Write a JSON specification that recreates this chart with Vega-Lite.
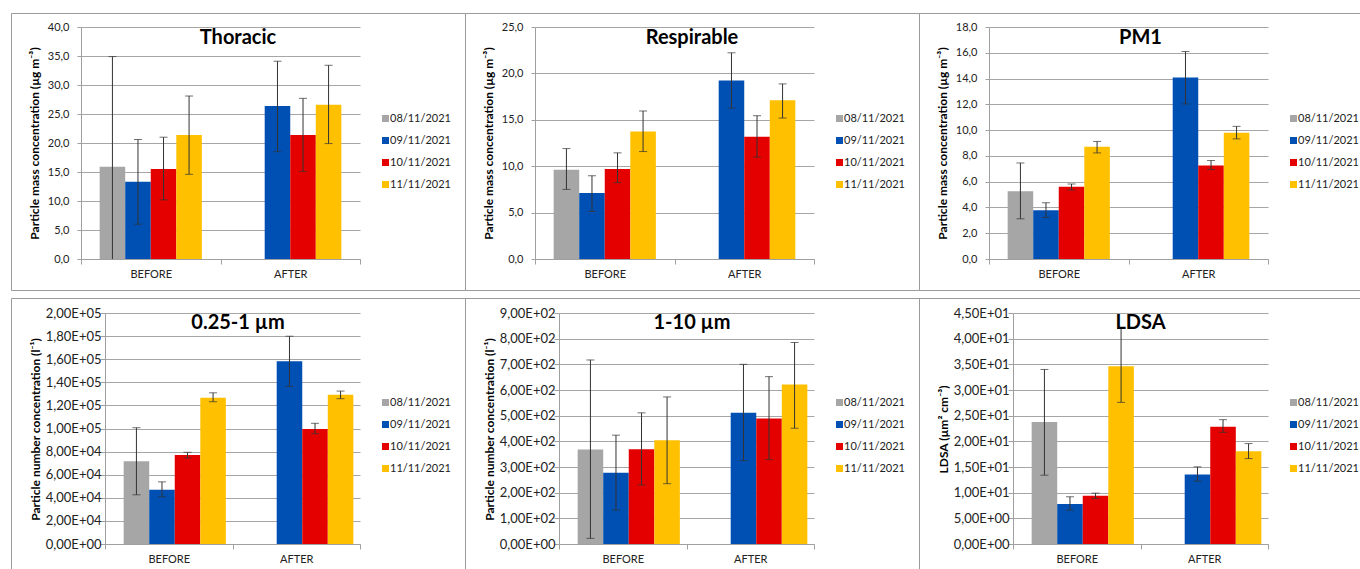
{
  "$schema": "https://vega.github.io/schema/vega-lite/v6.json",
  "padding": {"left": 10, "top": 12, "right": 0, "bottom": 0},
  "background": "#ffffff",
  "datasets": {
    "d": [
      {"p": "Thoracic", "phase": "BEFORE", "date": "08/11/2021", "value": 15.9, "lo": 0, "hi": 34.9},
      {"p": "Thoracic", "phase": "BEFORE", "date": "09/11/2021", "value": 13.3, "lo": 6.0, "hi": 20.6},
      {"p": "Thoracic", "phase": "BEFORE", "date": "10/11/2021", "value": 15.5, "lo": 10.2, "hi": 21.0},
      {"p": "Thoracic", "phase": "BEFORE", "date": "11/11/2021", "value": 21.4, "lo": 14.6, "hi": 28.1},
      {"p": "Thoracic", "phase": "AFTER", "date": "09/11/2021", "value": 26.4, "lo": 18.5, "hi": 34.1},
      {"p": "Thoracic", "phase": "AFTER", "date": "10/11/2021", "value": 21.4, "lo": 15.1, "hi": 27.7},
      {"p": "Thoracic", "phase": "AFTER", "date": "11/11/2021", "value": 26.6, "lo": 19.9, "hi": 33.4},
      {"p": "Respirable", "phase": "BEFORE", "date": "08/11/2021", "value": 9.63, "lo": 7.5, "hi": 11.9},
      {"p": "Respirable", "phase": "BEFORE", "date": "09/11/2021", "value": 7.11, "lo": 5.12, "hi": 8.98},
      {"p": "Respirable", "phase": "BEFORE", "date": "10/11/2021", "value": 9.7, "lo": 8.23, "hi": 11.44},
      {"p": "Respirable", "phase": "BEFORE", "date": "11/11/2021", "value": 13.74, "lo": 11.58, "hi": 15.95},
      {"p": "Respirable", "phase": "AFTER", "date": "09/11/2021", "value": 19.23, "lo": 16.27, "hi": 22.22},
      {"p": "Respirable", "phase": "AFTER", "date": "10/11/2021", "value": 13.17, "lo": 10.97, "hi": 15.44},
      {"p": "Respirable", "phase": "AFTER", "date": "11/11/2021", "value": 17.1, "lo": 15.19, "hi": 18.87},
      {"p": "PM1", "phase": "BEFORE", "date": "08/11/2021", "value": 5.25, "lo": 3.12, "hi": 7.45},
      {"p": "PM1", "phase": "BEFORE", "date": "09/11/2021", "value": 3.79, "lo": 3.22, "hi": 4.36},
      {"p": "PM1", "phase": "BEFORE", "date": "10/11/2021", "value": 5.61, "lo": 5.35, "hi": 5.82},
      {"p": "PM1", "phase": "BEFORE", "date": "11/11/2021", "value": 8.7, "lo": 8.23, "hi": 9.12},
      {"p": "PM1", "phase": "AFTER", "date": "09/11/2021", "value": 14.08, "lo": 12.03, "hi": 16.1},
      {"p": "PM1", "phase": "AFTER", "date": "10/11/2021", "value": 7.25, "lo": 6.94, "hi": 7.64},
      {"p": "PM1", "phase": "AFTER", "date": "11/11/2021", "value": 9.79, "lo": 9.32, "hi": 10.29},
      {"p": "PN025", "phase": "BEFORE", "date": "08/11/2021", "value": 71700, "lo": 42600, "hi": 100700},
      {"p": "PN025", "phase": "BEFORE", "date": "09/11/2021", "value": 46900, "lo": 40900, "hi": 53800},
      {"p": "PN025", "phase": "BEFORE", "date": "10/11/2021", "value": 77100, "lo": 74500, "hi": 79400},
      {"p": "PN025", "phase": "BEFORE", "date": "11/11/2021", "value": 126600, "lo": 123200, "hi": 130900},
      {"p": "PN025", "phase": "AFTER", "date": "09/11/2021", "value": 158300, "lo": 136400, "hi": 179900},
      {"p": "PN025", "phase": "AFTER", "date": "10/11/2021", "value": 99600, "lo": 95500, "hi": 104500},
      {"p": "PN025", "phase": "AFTER", "date": "11/11/2021", "value": 129200, "lo": 125800, "hi": 132400},
      {"p": "PN110", "phase": "BEFORE", "date": "08/11/2021", "value": 368, "lo": 22, "hi": 717},
      {"p": "PN110", "phase": "BEFORE", "date": "09/11/2021", "value": 278, "lo": 132, "hi": 424},
      {"p": "PN110", "phase": "BEFORE", "date": "10/11/2021", "value": 369, "lo": 230, "hi": 511},
      {"p": "PN110", "phase": "BEFORE", "date": "11/11/2021", "value": 404, "lo": 235, "hi": 573},
      {"p": "PN110", "phase": "AFTER", "date": "09/11/2021", "value": 511, "lo": 325, "hi": 700},
      {"p": "PN110", "phase": "AFTER", "date": "10/11/2021", "value": 489, "lo": 329, "hi": 652},
      {"p": "PN110", "phase": "AFTER", "date": "11/11/2021", "value": 621, "lo": 451, "hi": 785},
      {"p": "LDSA", "phase": "BEFORE", "date": "08/11/2021", "value": 23.77, "lo": 13.4, "hi": 34.0},
      {"p": "LDSA", "phase": "BEFORE", "date": "09/11/2021", "value": 7.77, "lo": 6.6, "hi": 9.2},
      {"p": "LDSA", "phase": "BEFORE", "date": "10/11/2021", "value": 9.39, "lo": 8.87, "hi": 9.91},
      {"p": "LDSA", "phase": "BEFORE", "date": "11/11/2021", "value": 34.65, "lo": 27.59, "hi": 42.03},
      {"p": "LDSA", "phase": "AFTER", "date": "09/11/2021", "value": 13.54, "lo": 12.24, "hi": 15.03},
      {"p": "LDSA", "phase": "AFTER", "date": "10/11/2021", "value": 22.86, "lo": 21.76, "hi": 24.22},
      {"p": "LDSA", "phase": "AFTER", "date": "11/11/2021", "value": 18.07, "lo": 16.64, "hi": 19.56}
    ]
  },
  "vconcat": [
    {
      "hconcat": [
        {
          "width": 454, "height": 277,
          "title": {"text": "Thoracic", "offset": -35},
          "data": {"name": "d"},
          "transform": [{"filter": "datum.p === 'Thoracic'"}],
          "encoding": {
            "x": {"field": "phase", "type": "nominal", "sort": ["BEFORE", "AFTER"], "scale": {"range": [70, 349], "paddingInner": 0, "paddingOuter": 0}, "axis": {"offset": -31, "title": null}},
            "xOffset": {"field": "date", "type": "nominal", "scale": {"domain": ["08/11/2021", "09/11/2021", "10/11/2021", "11/11/2021"], "paddingOuter": 0.73, "paddingInner": 0}}
          },
          "layer": [
            {"mark": {"type": "bar"}, "encoding": {
              "y": {"field": "value", "type": "quantitative", "scale": {"domain": [0, 40], "range": [246, 14], "nice": false, "zero": false},
                "axis": {"offset": -70, "values": [0, 5, 10, 15, 20, 25, 30, 35, 40], "tickCount": 40, "labelOverlap": false, "labelPadding": 8, "title": "Particle mass concentration (µg m⁻³)", "labelExpr": "replace(format(datum.value, '.1f'), '.', ',')", "titleX": -47, "titleY": 130}},
              "color": {"field": "date", "type": "nominal", "scale": {"domain": ["08/11/2021", "09/11/2021", "10/11/2021", "11/11/2021"], "range": ["#a6a6a6", "#0050b4", "#e50000", "#ffc000"]}, "legend": {"legendX": 369, "legendY": 100}}}},
            {"mark": {"type": "rule", "color": "#333333", "strokeWidth": 1}, "encoding": {"y": {"field": "lo", "type": "quantitative", "scale": {"domain": [0, 40], "range": [246, 14], "nice": false, "zero": false}}, "y2": {"field": "hi"}}},
            {"mark": {"type": "tick", "color": "#333333", "thickness": 1, "size": 8}, "encoding": {"y": {"field": "hi", "type": "quantitative", "scale": {"domain": [0, 40], "range": [246, 14], "nice": false, "zero": false}}}},
            {"mark": {"type": "tick", "color": "#333333", "thickness": 1, "size": 8}, "transform": [{"filter": "datum.lo > 0"}], "encoding": {"y": {"field": "lo", "type": "quantitative", "scale": {"domain": [0, 40], "range": [246, 14], "nice": false, "zero": false}}}}
          ]
        },
        {
          "width": 454, "height": 277,
          "title": {"text": "Respirable", "offset": -35},
          "data": {"name": "d"},
          "transform": [{"filter": "datum.p === 'Respirable'"}],
          "encoding": {
            "x": {"field": "phase", "type": "nominal", "sort": ["BEFORE", "AFTER"], "scale": {"range": [70, 349], "paddingInner": 0, "paddingOuter": 0}, "axis": {"offset": -31, "title": null}},
            "xOffset": {"field": "date", "type": "nominal", "scale": {"domain": ["08/11/2021", "09/11/2021", "10/11/2021", "11/11/2021"], "paddingOuter": 0.73, "paddingInner": 0}}
          },
          "layer": [
            {"mark": {"type": "bar"}, "encoding": {
              "y": {"field": "value", "type": "quantitative", "scale": {"domain": [0, 25], "range": [246, 14], "nice": false, "zero": false},
                "axis": {"offset": -70, "values": [0, 5, 10, 15, 20, 25], "tickCount": 40, "labelOverlap": false, "labelPadding": 8, "title": "Particle mass concentration (µg m⁻³)", "labelExpr": "replace(format(datum.value, '.1f'), '.', ',')", "titleX": -47, "titleY": 130}},
              "color": {"field": "date", "type": "nominal", "scale": {"domain": ["08/11/2021", "09/11/2021", "10/11/2021", "11/11/2021"], "range": ["#a6a6a6", "#0050b4", "#e50000", "#ffc000"]}, "legend": {"legendX": 369, "legendY": 100}}}},
            {"mark": {"type": "rule", "color": "#333333", "strokeWidth": 1}, "encoding": {"y": {"field": "lo", "type": "quantitative", "scale": {"domain": [0, 25], "range": [246, 14], "nice": false, "zero": false}}, "y2": {"field": "hi"}}},
            {"mark": {"type": "tick", "color": "#333333", "thickness": 1, "size": 8}, "encoding": {"y": {"field": "hi", "type": "quantitative", "scale": {"domain": [0, 25], "range": [246, 14], "nice": false, "zero": false}}}},
            {"mark": {"type": "tick", "color": "#333333", "thickness": 1, "size": 8}, "transform": [{"filter": "datum.lo > 0"}], "encoding": {"y": {"field": "lo", "type": "quantitative", "scale": {"domain": [0, 25], "range": [246, 14], "nice": false, "zero": false}}}}
          ]
        },
        {
          "width": 443, "height": 277,
          "title": {"text": "PM1", "offset": -35},
          "data": {"name": "d"},
          "transform": [{"filter": "datum.p === 'PM1'"}],
          "encoding": {
            "x": {"field": "phase", "type": "nominal", "sort": ["BEFORE", "AFTER"], "scale": {"range": [70, 349], "paddingInner": 0, "paddingOuter": 0}, "axis": {"offset": -31, "title": null}},
            "xOffset": {"field": "date", "type": "nominal", "scale": {"domain": ["08/11/2021", "09/11/2021", "10/11/2021", "11/11/2021"], "paddingOuter": 0.73, "paddingInner": 0}}
          },
          "layer": [
            {"mark": {"type": "bar"}, "encoding": {
              "y": {"field": "value", "type": "quantitative", "scale": {"domain": [0, 18], "range": [246, 14], "nice": false, "zero": false},
                "axis": {"offset": -70, "values": [0, 2, 4, 6, 8, 10, 12, 14, 16, 18], "tickCount": 40, "labelOverlap": false, "labelPadding": 8, "title": "Particle mass concentration (µg m⁻³)", "labelExpr": "replace(format(datum.value, '.1f'), '.', ',')", "titleX": -47, "titleY": 130}},
              "color": {"field": "date", "type": "nominal", "scale": {"domain": ["08/11/2021", "09/11/2021", "10/11/2021", "11/11/2021"], "range": ["#a6a6a6", "#0050b4", "#e50000", "#ffc000"]}, "legend": {"legendX": 369, "legendY": 100}}}},
            {"mark": {"type": "rule", "color": "#333333", "strokeWidth": 1}, "encoding": {"y": {"field": "lo", "type": "quantitative", "scale": {"domain": [0, 18], "range": [246, 14], "nice": false, "zero": false}}, "y2": {"field": "hi"}}},
            {"mark": {"type": "tick", "color": "#333333", "thickness": 1, "size": 8}, "encoding": {"y": {"field": "hi", "type": "quantitative", "scale": {"domain": [0, 18], "range": [246, 14], "nice": false, "zero": false}}}},
            {"mark": {"type": "tick", "color": "#333333", "thickness": 1, "size": 8}, "transform": [{"filter": "datum.lo > 0"}], "encoding": {"y": {"field": "lo", "type": "quantitative", "scale": {"domain": [0, 18], "range": [246, 14], "nice": false, "zero": false}}}}
          ]
        }
      ],
      "spacing": 0,
      "bounds": "flush",
      "resolve": {"scale": {"color": "independent"}, "legend": {"color": "independent"}}
    },
    {
      "hconcat": [
        {
          "width": 454, "height": 276,
          "title": {"text": "0.25-1 µm", "offset": -35},
          "data": {"name": "d"},
          "transform": [{"filter": "datum.p === 'PN025'"}],
          "encoding": {
            "x": {"field": "phase", "type": "nominal", "sort": ["BEFORE", "AFTER"], "scale": {"range": [94, 349], "paddingInner": 0, "paddingOuter": 0}, "axis": {"offset": -30, "title": null}},
            "xOffset": {"field": "date", "type": "nominal", "scale": {"domain": ["08/11/2021", "09/11/2021", "10/11/2021", "11/11/2021"], "paddingOuter": 0.73, "paddingInner": 0}}
          },
          "layer": [
            {"mark": {"type": "bar"}, "encoding": {
              "y": {"field": "value", "type": "quantitative", "scale": {"domain": [0, 200000], "range": [246, 15], "nice": false, "zero": false},
                "axis": {"offset": -94, "values": [0, 20000, 40000, 60000, 80000, 100000, 120000, 140000, 160000, 180000, 200000], "tickCount": 40, "labelOverlap": false, "tickSize": 5, "labelPadding": -1, "title": "Particle number concentration (l⁻¹)", "labelFontSize": 13, "labelExpr": "replace(replace(format(datum.value, '.2e'), '.', ','), 'e+', 'E+0')", "titleX": -70, "titleY": 131}},
              "color": {"field": "date", "type": "nominal", "scale": {"domain": ["08/11/2021", "09/11/2021", "10/11/2021", "11/11/2021"], "range": ["#a6a6a6", "#0050b4", "#e50000", "#ffc000"]}, "legend": {"legendX": 369, "legendY": 99}}}},
            {"mark": {"type": "rule", "color": "#333333", "strokeWidth": 1}, "encoding": {"y": {"field": "lo", "type": "quantitative", "scale": {"domain": [0, 200000], "range": [246, 15], "nice": false, "zero": false}}, "y2": {"field": "hi"}}},
            {"mark": {"type": "tick", "color": "#333333", "thickness": 1, "size": 8}, "encoding": {"y": {"field": "hi", "type": "quantitative", "scale": {"domain": [0, 200000], "range": [246, 15], "nice": false, "zero": false}}}},
            {"mark": {"type": "tick", "color": "#333333", "thickness": 1, "size": 8}, "transform": [{"filter": "datum.lo > 0"}], "encoding": {"y": {"field": "lo", "type": "quantitative", "scale": {"domain": [0, 200000], "range": [246, 15], "nice": false, "zero": false}}}}
          ]
        },
        {
          "width": 454, "height": 276,
          "title": {"text": "1-10 µm", "offset": -35},
          "data": {"name": "d"},
          "transform": [{"filter": "datum.p === 'PN110'"}],
          "encoding": {
            "x": {"field": "phase", "type": "nominal", "sort": ["BEFORE", "AFTER"], "scale": {"range": [94, 349], "paddingInner": 0, "paddingOuter": 0}, "axis": {"offset": -30, "title": null}},
            "xOffset": {"field": "date", "type": "nominal", "scale": {"domain": ["08/11/2021", "09/11/2021", "10/11/2021", "11/11/2021"], "paddingOuter": 0.73, "paddingInner": 0}}
          },
          "layer": [
            {"mark": {"type": "bar"}, "encoding": {
              "y": {"field": "value", "type": "quantitative", "scale": {"domain": [0, 900], "range": [246, 15], "nice": false, "zero": false},
                "axis": {"offset": -94, "values": [0, 100, 200, 300, 400, 500, 600, 700, 800, 900], "tickCount": 40, "labelOverlap": false, "tickSize": 5, "labelPadding": -1, "title": "Particle number concentration (l⁻¹)", "labelFontSize": 13, "labelExpr": "replace(replace(format(datum.value, '.2e'), '.', ','), 'e+', 'E+0')", "titleX": -70, "titleY": 131}},
              "color": {"field": "date", "type": "nominal", "scale": {"domain": ["08/11/2021", "09/11/2021", "10/11/2021", "11/11/2021"], "range": ["#a6a6a6", "#0050b4", "#e50000", "#ffc000"]}, "legend": {"legendX": 369, "legendY": 99}}}},
            {"mark": {"type": "rule", "color": "#333333", "strokeWidth": 1}, "encoding": {"y": {"field": "lo", "type": "quantitative", "scale": {"domain": [0, 900], "range": [246, 15], "nice": false, "zero": false}}, "y2": {"field": "hi"}}},
            {"mark": {"type": "tick", "color": "#333333", "thickness": 1, "size": 8}, "encoding": {"y": {"field": "hi", "type": "quantitative", "scale": {"domain": [0, 900], "range": [246, 15], "nice": false, "zero": false}}}},
            {"mark": {"type": "tick", "color": "#333333", "thickness": 1, "size": 8}, "transform": [{"filter": "datum.lo > 0"}], "encoding": {"y": {"field": "lo", "type": "quantitative", "scale": {"domain": [0, 900], "range": [246, 15], "nice": false, "zero": false}}}}
          ]
        },
        {
          "width": 443, "height": 276,
          "title": {"text": "LDSA", "offset": -35},
          "data": {"name": "d"},
          "transform": [{"filter": "datum.p === 'LDSA'"}],
          "encoding": {
            "x": {"field": "phase", "type": "nominal", "sort": ["BEFORE", "AFTER"], "scale": {"range": [94, 349], "paddingInner": 0, "paddingOuter": 0}, "axis": {"offset": -30, "title": null}},
            "xOffset": {"field": "date", "type": "nominal", "scale": {"domain": ["08/11/2021", "09/11/2021", "10/11/2021", "11/11/2021"], "paddingOuter": 0.73, "paddingInner": 0}}
          },
          "layer": [
            {"mark": {"type": "bar"}, "encoding": {
              "y": {"field": "value", "type": "quantitative", "scale": {"domain": [0, 45], "range": [246, 15], "nice": false, "zero": false},
                "axis": {"offset": -94, "values": [0, 5, 10, 15, 20, 25, 30, 35, 40, 45], "tickCount": 40, "labelOverlap": false, "tickSize": 5, "labelPadding": -1, "title": "LDSA (µm² cm⁻³)", "labelFontSize": 13, "labelExpr": "replace(replace(format(datum.value, '.2e'), '.', ','), 'e+', 'E+0')", "titleX": -70, "titleY": 131}},
              "color": {"field": "date", "type": "nominal", "scale": {"domain": ["08/11/2021", "09/11/2021", "10/11/2021", "11/11/2021"], "range": ["#a6a6a6", "#0050b4", "#e50000", "#ffc000"]}, "legend": {"legendX": 369, "legendY": 99}}}},
            {"mark": {"type": "rule", "color": "#333333", "strokeWidth": 1}, "encoding": {"y": {"field": "lo", "type": "quantitative", "scale": {"domain": [0, 45], "range": [246, 15], "nice": false, "zero": false}}, "y2": {"field": "hi"}}},
            {"mark": {"type": "tick", "color": "#333333", "thickness": 1, "size": 8}, "encoding": {"y": {"field": "hi", "type": "quantitative", "scale": {"domain": [0, 45], "range": [246, 15], "nice": false, "zero": false}}}},
            {"mark": {"type": "tick", "color": "#333333", "thickness": 1, "size": 8}, "transform": [{"filter": "datum.lo > 0"}], "encoding": {"y": {"field": "lo", "type": "quantitative", "scale": {"domain": [0, 45], "range": [246, 15], "nice": false, "zero": false}}}}
          ]
        }
      ],
      "spacing": 0,
      "bounds": "flush",
      "resolve": {"scale": {"color": "independent"}, "legend": {"color": "independent"}}
    }
  ],
  "spacing": 6,
  "resolve": {"scale": {"color": "independent"}, "legend": {"color": "independent"}},
  "config": {
    "font": "Lato",
    "view": {"stroke": "#9a9a9a", "strokeWidth": 1},
    "title": {"font": "Lato", "fontSize": 20, "fontWeight": "bold", "color": "#000000", "anchor": "middle", "frame": "group"},
    "axis": {"labelFont": "Lato", "labelColor": "#222222", "domainColor": "#a0a0a0", "tickColor": "#a0a0a0", "gridColor": "#a6a6a6", "titleFont": "Lato", "titleFontWeight": "bold", "titleColor": "#000000"},
    "axisX": {"grid": false, "labelAngle": 0, "labelFontSize": 11, "tickBand": "extent", "tickSize": 5, "labelPadding": 4},
    "axisY": {"grid": true, "tickSize": 4, "labelFontSize": 11, "titleFontSize": 12, "titleAngle": -90, "titleBaseline": "middle", "titleAlign": "center"},
    "legend": {"orient": "none", "title": null, "symbolType": "square", "symbolSize": 49, "symbolStrokeWidth": 0, "labelFont": "Lato", "labelFontSize": 11, "labelColor": "#222222", "rowPadding": 10, "labelOffset": -1}
  }
}
